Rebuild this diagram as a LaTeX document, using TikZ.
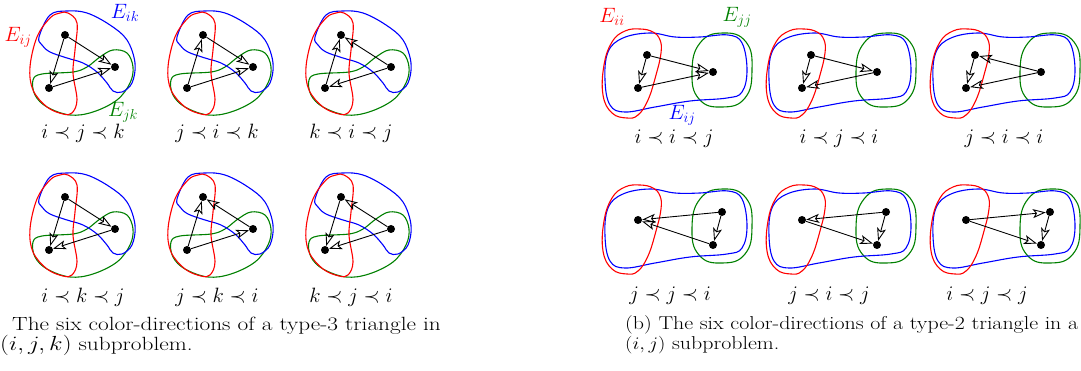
\documentclass[tikz,border=0pt]{standalone}
\usetikzlibrary{arrows.meta}
\tikzset{
 vtx/.style={circle,fill=black,inner sep=0pt,minimum size=8pt},
 arr/.style={line width=0.9pt,-{Stealth[open,length=13pt,width=9pt,inset=3pt,line width=0.9pt]}},
 redc/.style={draw=red,line width=1.1pt},
 bluec/.style={draw=blue,line width=1.1pt},
 greenc/.style={draw=green!50!black,line width=1.1pt},
 lab/.style={inner sep=0pt,anchor=base},
 captxt/.style={inner sep=0pt,anchor=base west},
 capafont/.style={font=\fontsize{23.3}{27}\selectfont},
 capbfont/.style={font=\fontsize{21.9}{26}\selectfont},
 every node/.style={font=\fontsize{19.3}{23}\selectfont},
}
\newcommand{\tthreepanel}[3]{%
 \begin{scope}[shift={(#2,#3)}]
  \draw[greenc] plot[smooth cycle,tension=0.6] coordinates {(33,80) (42,74) (73,72) (87,67) (100,57) (113,50) (127,53) (133,67) (130,83) (117,100) (93,112) (70,115) (47,107) (35,95)};
  \draw[bluec] plot[smooth cycle,tension=0.6] coordinates {(39,37) (50,15) (67,11) (87,13) (110,25) (127,40) (135,63) (132,83) (122,92) (113,91) (107,83) (97,72) (83,63) (67,58) (50,52) (42,45)};
  \draw[redc] plot[smooth cycle,tension=0.6] coordinates {(68,13) (77,23) (75,50) (73,73) (77,100) (72,113) (63,114) (47,107) (33,90) (30,67) (37,37) (50,18) (60,13)};
  \node[vtx] (#1T) at (65,35) {};
  \node[vtx] (#1R) at (115,67) {};
  \node[vtx] (#1B) at (49,88) {};
 \end{scope}}
\newcommand{\ttwoshape}[2]{%
 \begin{scope}[shift={(#1,#2)}]
  \draw[greenc] plot[smooth cycle,tension=0.8] coordinates {(102,72) (110,43) (133,33) (156,42) (162,70) (155,98) (132,107) (109,99)};
  \draw[bluec] plot[smooth cycle,tension=0.65] coordinates {(18,52) (33,38) (60,33) (85,37) (110,37) (138,35) (152,43) (157,70) (152,92) (137,98) (100,101) (65,107) (35,112) (20,105) (15,80)};
  \draw[redc] plot[smooth cycle,tension=0.7] coordinates {(50,29) (63,32) (70,40) (71,53) (66,75) (58,100) (48,115) (37,118) (22,113) (13,95) (14,65) (22,42) (35,31)};
 \end{scope}}
\begin{document}
\begin{tikzpicture}[x=1pt,y=-1pt]
\useasboundingbox (0,0) rectangle (1081,371);
% ---------- (a) ----------
\tthreepanel{a1}{0}{0}
\tthreepanel{a2}{138}{0}
\tthreepanel{a3}{276}{0}
\tthreepanel{a4}{0}{162}
\tthreepanel{a5}{138}{162}
\tthreepanel{a6}{276}{162}
\node[red] (eij) at (18,37) {$E_{ij}$};
\node[blue] (eik) at (125,13) {$E_{ik}$};
\node[green!50!black] (ejk) at (123,112) {$E_{jk}$};
% arrows a1: i<j<k
\draw[arr] (a1T) -- (a1R); \draw[arr] (a1T) -- (a1B); \draw[arr] (a1B) -- (a1R);
% a2: j<i<k
\draw[arr] (a2B) -- (a2T); \draw[arr] (a2T) -- (a2R); \draw[arr] (a2B) -- (a2R);
% a3: k<i<j
\draw[arr] (a3B) -- (a3T); \draw[arr] (a3R) -- (a3T); \draw[arr] (a3R) -- (a3B);
% a4: i<k<j
\draw[arr] (a4T) -- (a4R); \draw[arr] (a4T) -- (a4B); \draw[arr] (a4R) -- (a4B);
% a5: j<k<i
\draw[arr] (a5B) -- (a5T); \draw[arr] (a5R) -- (a5T); \draw[arr] (a5B) -- (a5R);
% a6: k<j<i
\draw[arr] (a6T) -- (a6B); \draw[arr] (a6R) -- (a6T); \draw[arr] (a6R) -- (a6B);
\node[lab] (la1) at (83,139) {$i\prec j\prec k$};
\node[lab] (la2) at (217,139) {$j\prec i\prec k$};
\node[lab] (la3) at (351,139) {$k\prec i\prec j$};
\node[lab] (la4) at (83,302) {$i\prec k\prec j$};
\node[lab] (la5) at (217,302) {$j\prec k\prec i$};
\node[lab] (la6) at (351,302) {$k\prec j\prec i$};
\node[captxt,capafont] (capa1) at (12,330) {\scalebox{1}[0.82]{The six color-directions of a type-3 triangle in}};
\node[captxt,capafont] (capa2) at (0,350) {\scalebox{1}[0.82]{$(i,j,k)$ subproblem.}};
% ---------- (b) ----------
\ttwoshape{590}{0}
\ttwoshape{754}{0}
\ttwoshape{918}{0}
\ttwoshape{590}{156}
\ttwoshape{754}{156}
\ttwoshape{918}{156}
\node[red] (eii) at (612,17) {$E_{ii}$};
\node[green!50!black] (ejj) at (737,17) {$E_{jj}$};
\node[blue] (eijb) at (682,115) {$E_{ij}$};
% vertices
\foreach \n/\dx in {b1/590,b2/754,b3/918}{
  \node[vtx] (\n A) at (\dx+57,55) {};
  \node[vtx] (\n B) at (\dx+48,88) {};
  \node[vtx] (\n C) at (\dx+123,72) {};
}
\foreach \n/\dx in {b4/590,b5/754,b6/918}{
  \node[vtx] (\n L) at (\dx+48,220) {};
  \node[vtx] (\n P) at (\dx+132,212) {};
  \node[vtx] (\n Q) at (\dx+123,245) {};
}
% b1: i<i<j
\draw[arr] (b1A) -- (b1B); \draw[arr] (b1A) -- (b1C); \draw[arr] (b1B) -- (b1C);
% b2: i<j<i
\draw[arr] (b2A) -- (b2B); \draw[arr] (b2A) -- (b2C); \draw[arr] (b2C) -- (b2B);
% b3: j<i<i
\draw[arr] (b3A) -- (b3B); \draw[arr] (b3C) -- (b3A); \draw[arr] (b3C) -- (b3B);
% b4: j<j<i
\draw[arr] (b4P) -- (b4L); \draw[arr] (b4Q) -- (b4L); \draw[arr] (b4P) -- (b4Q);
% b5: j<i<j
\draw[arr] (b5P) -- (b5L); \draw[arr] (b5L) -- (b5Q); \draw[arr] (b5P) -- (b5Q);
% b6: i<j<j
\draw[arr] (b6L) -- (b6P); \draw[arr] (b6L) -- (b6Q); \draw[arr] (b6P) -- (b6Q);
\node[lab] (lb1) at (674,144) {$i\prec i\prec j$};
\node[lab] (lb2) at (839,144) {$i\prec j\prec i$};
\node[lab] (lb3) at (1004,144) {$j\prec i\prec i$};
\node[lab] (lb4) at (670,300) {$j\prec j\prec i$};
\node[lab] (lb5) at (829,300) {$j\prec i\prec j$};
\node[lab] (lb6) at (987,300) {$i\prec j\prec j$};
\node[captxt,capbfont] (capb1) at (625,329) {\scalebox{1}[0.85]{(b) The six color-directions of a type-2 triangle in a}};
\node[captxt,capbfont] (capb2) at (625,349) {\scalebox{1}[0.85]{$(i,j)$ subproblem.}};
\end{tikzpicture}
\end{document}
